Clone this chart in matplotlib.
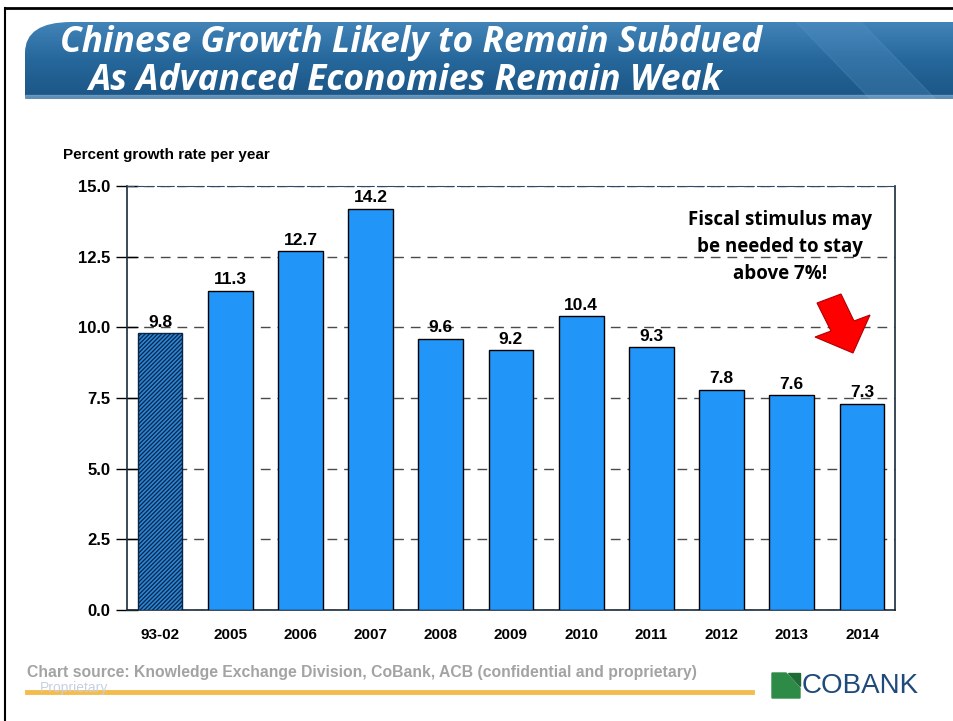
import numpy as np
import matplotlib
matplotlib.use('Agg')
from matplotlib import pyplot as plt
from matplotlib.patches import Polygon, FancyBboxPatch
from matplotlib.colors import LinearSegmentedColormap

# ---------------- data ----------------
periods = ['93-02', '2005', '2006', '2007', '2008', '2009', '2010', '2011', '2012', '2013', '2014']
growth = [9.8, 11.3, 12.7, 14.2, 9.6, 9.2, 10.4, 9.3, 7.8, 7.6, 7.3]
yticks = [0.0, 2.5, 5.0, 7.5, 10.0, 12.5, 15.0]

W, H = 954, 721
plt.rcParams['hatch.linewidth'] = 0.9
fig = plt.figure(figsize=(W / 100, H / 100), dpi=100)
fig.patch.set_facecolor('white')


def px(x, y):
    # pixel position (from top-left) -> figure fraction
    return (x / W, 1 - y / H)


# slide frame (left + top black lines)
fig.add_artist(plt.Line2D([5 / W, 5 / W], [0, 1 - 8 / H], color='black', lw=1.5))
fig.add_artist(plt.Line2D([5 / W, 1], [1 - 8 / H, 1 - 8 / H], color='black', lw=2))

# title banner with vertical gradient
bax = fig.add_axes([25 / W, 1 - 99 / H, 1 - 25 / W, 77 / H])
grad = np.linspace(0, 1, 100).reshape(-1, 1)
cmap = LinearSegmentedColormap.from_list('ban', ['#4283b8', '#26679b', '#1b5584'])
bax.imshow(grad, aspect='auto', cmap=cmap, extent=[0, 1, 0, 1], origin='upper')
clip = FancyBboxPatch((0.0, -0.5), 1.2, 1.5, boxstyle='round,pad=0,rounding_size=0.05',
                      transform=bax.transAxes, mutation_aspect=8)
bax.images[0].set_clip_path(clip)
bax.add_patch(Polygon([[0.83, 1], [0.9, 1], [0.98, 0], [0.91, 0]], closed=True,
                      color='#5a98c8', alpha=0.25, transform=bax.transAxes))
bax.add_patch(Polygon([[0, 0], [1, 0], [1, 0.05], [0, 0.05]], closed=True,
                      color='#8ab4d6', alpha=0.6, transform=bax.transAxes))
bax.set_xlim(0, 1)
bax.set_ylim(0, 1)
bax.axis('off')

title_kw = dict(color='white', fontsize=25.5, fontweight='bold', fontstyle='italic',
                family='Open Sans', va='baseline', ha='left')
fig.text(*px(60, 52), 'Chinese Growth Likely to Remain Subdued', **title_kw)
fig.text(*px(88, 90), 'As Advanced Economies Remain Weak', **title_kw)

# ---------------- chart ----------------
ax = fig.add_axes([127 / W, 1 - 610 / H, 768 / W, 424 / H])
x = np.arange(len(periods))
colors = ['#2a86d6'] + ['#2196f8'] * (len(periods) - 1)
bars = ax.bar(x, growth, width=0.64, color=colors, edgecolor='black', linewidth=1, zorder=3)
bars[0].set_hatch('////////')
bars[0].set_edgecolor('#0b2445')

for xi, v in zip(x, growth):
    ax.text(xi, v + 0.12, f'{v:.1f}', ha='center', va='bottom', fontsize=12.5,
            fontweight='bold', family='Liberation Sans', zorder=4)

ax.set_xlim(-0.47, len(periods) - 0.53)
ax.set_ylim(0, 15)
ax.set_yticks(yticks)
ax.set_yticklabels([f'{t:.1f}' for t in yticks], fontsize=12, fontweight='bold',
                   family='Liberation Sans')
ax.set_xticks(x)
ax.set_xticklabels(periods, fontsize=11, fontweight='bold', family='Liberation Sans')
ax.tick_params(axis='y', direction='inout', length=16, width=1, pad=4)
ax.tick_params(axis='x', length=0, pad=13)
ax.yaxis.grid(True, linestyle=(0, (7, 5)), color='#4a4a4a', lw=1, zorder=0)
for s in ['left', 'right', 'bottom']:
    ax.spines[s].set_color('#1a2a3a')
    ax.spines[s].set_linewidth(1.2)
ax.spines['top'].set_linestyle((0, (6, 3)))
ax.spines['top'].set_color('#2a4a6a')

fig.text(*px(63, 155), 'Percent growth rate per year', fontsize=11,
         fontweight='bold', family='Liberation Sans', va='center')

# annotation
fig.text(*px(780, 247), 'Fiscal stimulus may\nbe needed to stay\nabove 7%!',
         ha='center', va='center', fontsize=13.5, fontweight='bold', family='Open Sans',
         linespacing=1.45)

# red arrow pointing down-right at the 2014 bar
arrow_px = [(817, 303), (841, 294), (854, 321), (870, 315), (853, 353),
            (815, 337), (831, 331)]
fig.add_artist(Polygon([px(a, b) for a, b in arrow_px], closed=True,
                       transform=fig.transFigure, fc='#ff0000', ec='#b00000', lw=0.8))

# footer
fig.text(*px(40, 688), 'Proprietary', fontsize=10, color='#c8d0e0',
         family='Liberation Sans', va='center')
fig.add_artist(plt.Line2D([27 / W, 752 / W], [1 - 692 / H, 1 - 692 / H],
                          color='#f2b53a', lw=3.5, alpha=0.9))
fig.text(*px(27, 673),
         'Chart source: Knowledge Exchange Division, CoBank, ACB (confidential and proprietary)',
         fontsize=11.3, color='#a3a3a3', fontweight='bold', family='Liberation Sans',
         va='center')

# CoBank logo
fig.add_artist(Polygon([px(772, 673), px(786, 673), px(800, 688), px(800, 698),
                        px(772, 698)], closed=True, color='#2e8b47',
                       transform=fig.transFigure))
fig.add_artist(Polygon([px(788, 673), px(800, 673), px(800, 686)], closed=True,
                       color='#1f6b35', transform=fig.transFigure))
fig.text(*px(802, 686), 'COBANK', fontsize=20, color='#1f4a7a',
         family='Liberation Sans', va='center')

fig.savefig('out.png', dpi=100)
